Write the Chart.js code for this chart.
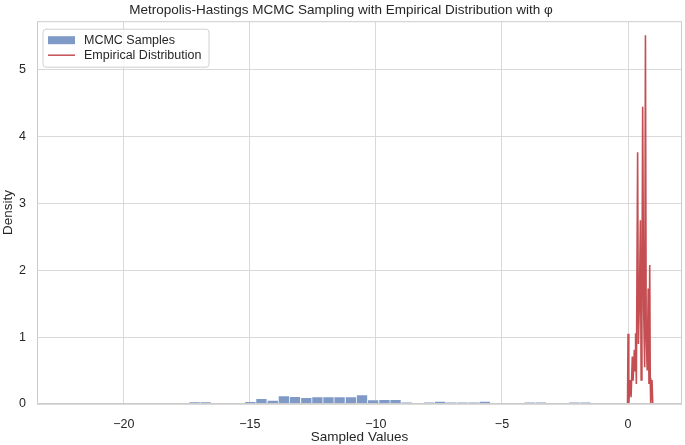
<!DOCTYPE html>
<html><head><meta charset="utf-8">
<script src="https://cdn.jsdelivr.net/npm/chart.js@4.4.0/dist/chart.umd.min.js"></script>
<style>html,body{margin:0;padding:0;background:#fff;}#wrap{width:685px;height:445px;position:relative}</style>
</head><body><div id="wrap"><canvas id="c" width="685" height="445" style="width:685px;height:445px"></canvas></div>
<script>
// Histogram (MCMC samples): bin centres and density heights
const binCenters = [-18.52, -17.64, -17.19, -16.75, -15.42, -14.98, -14.54, -14.09, -13.65, -13.21, -12.76, -12.32, -11.88, -11.44, -10.99, -10.55, -10.11, -9.66, -9.22, -8.78, -7.89, -7.45, -7.01, -6.56, -6.12, -5.68, -3.90, -3.46, -2.13, -1.69];
const binDensity = [0.010, 0.010, 0.025, 0.025, 0.012, 0.030, 0.075, 0.048, 0.115, 0.105, 0.090, 0.100, 0.100, 0.100, 0.100, 0.130, 0.055, 0.060, 0.060, 0.022, 0.022, 0.035, 0.022, 0.022, 0.022, 0.035, 0.022, 0.022, 0.022, 0.022];
// Empirical distribution line
const empX = [-0.02, 0.00, 0.03, 0.08, 0.12, 0.17, 0.20, 0.25, 0.28, 0.30, 0.33, 0.38, 0.41, 0.45, 0.49, 0.52, 0.55, 0.58, 0.62, 0.66, 0.69, 0.72, 0.76, 0.80, 0.83, 0.86, 0.88, 0.90, 0.95, 0.98];
const empY = [0, 1.05, 0, 0.36, 0.10, 0.71, 0.35, 0.81, 0.50, 1.06, 0.30, 3.77, 0.90, 1.50, 2.75, 0.36, 1.31, 4.45, 1.40, 0.55, 5.52, 1.06, 0.50, 1.73, 0.30, 2.08, 0.39, 0.00, 0.36, 0];
const xTicks = [-20, -15, -10, -5, 0];
const yTicks = [0, 1, 2, 3, 4, 5];

const BLUE = 'rgb(128,154,199)';
const RED = '#c44e52';
const FONT = '"Liberation Sans", Arial, sans-serif';
const TXT = '#262626';

const legendPlugin = {
  id: 'mplLegend',
  afterDraw(chart) {
    const ctx = chart.ctx;
    const a = chart.chartArea;
    ctx.save();
    ctx.strokeStyle = '#cccccc';
    ctx.lineWidth = 1;
    ctx.strokeRect(a.left + 0.5, a.top + 0.5, a.right - a.left - 1, a.bottom - a.top - 1);
    const x = a.left + 6, y = a.top + 8, w = 166, h = 38, r = 3;
    ctx.beginPath();
    ctx.moveTo(x + r, y); ctx.lineTo(x + w - r, y); ctx.quadraticCurveTo(x + w, y, x + w, y + r);
    ctx.lineTo(x + w, y + h - r); ctx.quadraticCurveTo(x + w, y + h, x + w - r, y + h);
    ctx.lineTo(x + r, y + h); ctx.quadraticCurveTo(x, y + h, x, y + h - r);
    ctx.lineTo(x, y + r); ctx.quadraticCurveTo(x, y, x + r, y); ctx.closePath();
    ctx.fillStyle = 'rgba(255,255,255,0.8)'; ctx.fill();
    ctx.strokeStyle = '#d0d0d0'; ctx.stroke();
    ctx.fillStyle = BLUE;
    ctx.fillRect(x + 5, y + 7, 27, 8);
    ctx.strokeStyle = RED; ctx.lineWidth = 1.5;
    ctx.beginPath(); ctx.moveTo(x + 5, y + 26); ctx.lineTo(x + 32, y + 26); ctx.stroke();
    ctx.fillStyle = TXT;
    ctx.font = '12.5px ' + FONT;
    ctx.textBaseline = 'middle';
    ctx.fillText(chart.data.datasets[1].label, x + 41, y + 11);
    ctx.fillText(chart.data.datasets[0].label, x + 41, y + 26);
    ctx.restore();
  }
};

new Chart(document.getElementById('c'), {
  type: 'bar',
  data: {
    datasets: [
      {
        type: 'line',
        label: 'Empirical Distribution',
        data: empX.map((v, i) => ({x: v, y: empY[i]})),
        borderColor: RED,
        borderWidth: 1.6,
        pointRadius: 0,
        tension: 0,
        fill: false,
        order: 0
      },
      {
        type: 'bar',
        label: 'MCMC Samples',
        data: binCenters.map((v, i) => ({x: v, y: binDensity[i]})),
        backgroundColor: BLUE,
        borderWidth: 0,
        barPercentage: 0.93,
        categoryPercentage: 1.0,
        order: 1
      }
    ]
  },
  options: {
    responsive: false,
    animation: false,
    devicePixelRatio: 1,
    layout: { padding: { top: 0, right: 3, left: 0, bottom: 0 } },
    plugins: {
      legend: { display: false },
      tooltip: { enabled: false },
      title: {
        display: true,
        text: 'Metropolis-Hastings MCMC Sampling with Empirical Distribution with φ',
        color: TXT,
        font: { family: FONT, size: 13.5, weight: 'normal', lineHeight: 1.2 },
        padding: { top: 2, bottom: 3 }
      }
    },
    scales: {
      x: {
        type: 'linear',
        min: -23.44,
        max: 2.14,
        offset: false,
        afterBuildTicks: (s) => { s.ticks = xTicks.map(v => ({value: v})); },
        afterFit: (s) => { s.height = 41; },
        ticks: {
          color: TXT,
          font: { family: FONT, size: 12.5 },
          padding: 13,
          maxRotation: 0,
          callback: (v) => v < 0 ? '\u2212' + Math.abs(v) : String(v)
        },
        grid: { color: '#d9d9d9', lineWidth: 1, drawTicks: false, offset: false },
        border: { display: false },
        title: { display: true, text: 'Sampled Values', color: TXT, font: { family: FONT, size: 13.5 }, padding: { top: 0, bottom: 0 } }
      },
      y: {
        type: 'linear',
        min: 0,
        max: 5.73,
        afterBuildTicks: (s) => { s.ticks = yTicks.map(v => ({value: v})); },
        afterFit: (s) => { s.width = 37; },
        ticks: {
          color: TXT,
          font: { family: FONT, size: 12.5 },
          padding: 11
        },
        grid: { color: '#d9d9d9', lineWidth: 1, drawTicks: false },
        border: { display: false },
        title: { display: true, text: 'Density', color: TXT, font: { family: FONT, size: 13.5 }, padding: { top: 0, bottom: 2 } }
      }
    }
  },
  plugins: [legendPlugin]
});
</script></body></html>
